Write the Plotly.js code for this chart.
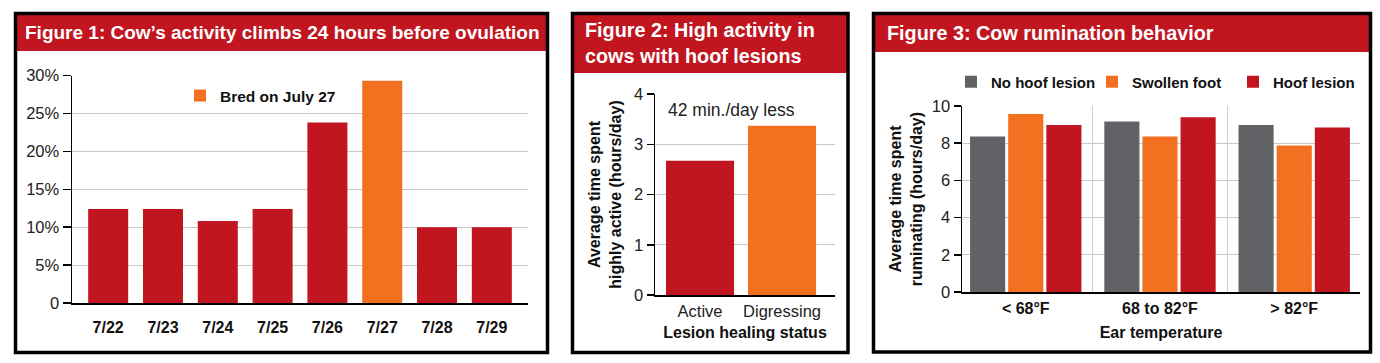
<!DOCTYPE html>
<html>
<head>
<meta charset="utf-8">
<script src="https://cdn.plot.ly/plotly-3.0.1.min.js"></script>
<style>
html,body{margin:0;padding:0;background:#fff;}
#chart{width:1380px;height:363px;}
</style>
</head>
<body>
<div id="chart"></div>
<script>
// ---------- DATA ----------
// Figure 1: cow's activity by day (%)
const dates = ['7/22','7/23','7/24','7/25','7/26','7/27','7/28','7/29'];
const activityPct = [12.4, 12.4, 10.8, 12.4, 23.8, 29.3, 10.0, 10.0];
const bredDate = '7/27';
const bredLabel = 'Bred on July 27';
const pctTickVals = [0, 5, 10, 15, 20, 25, 30];
const pctTickText = ['0', '5%', '10%', '15%', '20%', '25%', '30%'];

// Figure 2: time highly active (hours/day)
const healingStatus = ['Active', 'Digressing'];
const activeHours = [2.67, 3.37];
const fig2Note = '42 min./day less';

// Figure 3: rumination (hours/day)
const earTemps = ['< 68°F', '68 to 82°F', '> 82°F'];
const noHoofLesion = [8.36, 9.16, 8.98];
const swollenFoot = [9.57, 8.36, 7.87];
const hoofLesion = [8.98, 9.39, 8.84];
const seriesNames = ['No hoof lesion', 'Swollen foot', 'Hoof lesion'];

const titles = [
  'Figure 1: Cow’s activity climbs 24 hours before ovulation',
  'Figure 2: High activity in<br>cows with hoof lesions',
  'Figure 3: Cow rumination behavior'
];

// ---------- STYLE ----------
const RED = '#C1151F', ORANGE = '#F37021', GRAY = '#616265';
const W = 1380, H = 363;
const fx = p => p / W;
const fy = p => 1 - p / H;
const FAM = 'Liberation Sans, Arial, sans-serif';
const BOLD = {family: FAM, weight: 'bold', color: '#111'};
const REGF = {family: FAM, size: 16.5, color: '#222'};
const HEAD = {family: FAM, weight: 'bold', size: 19, color: '#fff'};
const HEAD2 = {family: FAM, weight: 'bold', size: 19.8, color: '#fff'};

// ---------- TRACES ----------
const redVals = dates.map((d, i) => d === bredDate ? null : activityPct[i]);
const bredVals = dates.map((d, i) => d === bredDate ? activityPct[i] : null);

const traces = [
  {type: 'bar', x: dates, y: redVals, marker: {color: RED}, width: 0.73,
   offsetgroup: 'f1', xaxis: 'x', yaxis: 'y', showlegend: false, name: 'activity'},
  {type: 'bar', x: dates, y: bredVals, marker: {color: ORANGE}, width: 0.73,
   offsetgroup: 'f1', xaxis: 'x', yaxis: 'y', name: bredLabel, legend: 'legend'},
  {type: 'bar', x: healingStatus, y: activeHours, marker: {color: [RED, ORANGE]},
   width: 0.83, xaxis: 'x2', yaxis: 'y2', showlegend: false, name: 'hours'},
  {type: 'bar', x: earTemps, y: noHoofLesion, marker: {color: GRAY}, name: seriesNames[0],
   xaxis: 'x3', yaxis: 'y3', legend: 'legend2'},
  {type: 'bar', x: earTemps, y: swollenFoot, marker: {color: ORANGE}, name: seriesNames[1],
   xaxis: 'x3', yaxis: 'y3', legend: 'legend2'},
  {type: 'bar', x: earTemps, y: hoofLesion, marker: {color: RED}, name: seriesNames[2],
   xaxis: 'x3', yaxis: 'y3', legend: 'legend2'}
];

const yBase = {
  showline: true, linecolor: '#000', linewidth: 1.5,
  ticks: 'outside', ticklen: 7, tickwidth: 1.5, tickcolor: '#000',
  showgrid: true, gridcolor: '#c8c8c8', gridwidth: 1, zeroline: false,
  tickfont: REGF, fixedrange: true
};
const xBase = {
  type: 'category', showline: true, linecolor: '#000', linewidth: 1.5,
  ticks: '', showgrid: false, zeroline: false, fixedrange: true,
  tickfont: Object.assign({size: 16}, BOLD)
};

const layout = {
  width: W, height: H,
  margin: {l: 0, r: 0, t: 0, b: 0},
  paper_bgcolor: '#fff', plot_bgcolor: 'rgba(0,0,0,0)',
  barmode: 'group', bargap: 0.148, bargroupgap: 0.079,
  font: {family: FAM, color: '#222'},
  xaxis: Object.assign({}, xBase, {domain: [fx(72), fx(528)], anchor: 'y',
    range: [-0.66, 7.66], categoryorder: 'array', categoryarray: dates,
    ticklabelstandoff: 9}),
  yaxis: Object.assign({}, yBase, {domain: [fy(303), fy(75.5)], anchor: 'x',
    range: [0, 30], tickvals: pctTickVals, ticktext: pctTickText, ticklen: 8}),
  xaxis2: Object.assign({}, xBase, {domain: [fx(655), fx(835)], anchor: 'y2',
    range: [-0.549, 1.646], tickfont: REGF, ticklabelstandoff: 1,
    title: {text: 'Lesion healing status', font: Object.assign({size: 16}, BOLD), standoff: 7}}),
  yaxis2: Object.assign({}, yBase, {domain: [fy(295), fy(94)], anchor: 'x2',
    range: [0, 4], tickvals: [0, 1, 2, 3, 4],
    title: {text: 'Average time spent<br>highly active (hours/day)',
            font: Object.assign({size: 16}, BOLD), standoff: 8}}),
  xaxis3: Object.assign({}, xBase, {domain: [fx(962), fx(1360)], anchor: 'y3',
    range: [-0.475, 2.49], showgrid: true, tickson: 'boundaries',
    gridcolor: '#d0d0d0', ticklabelstandoff: 1,
    title: {text: 'Ear temperature', font: Object.assign({size: 16}, BOLD), standoff: 11}}),
  yaxis3: Object.assign({}, yBase, {domain: [fy(292), fy(106)], anchor: 'x3',
    range: [0, 10], tickvals: [0, 2, 4, 6, 8, 10],
    title: {text: 'Average time spent<br>ruminating (hours/day)',
            font: Object.assign({size: 16}, BOLD), standoff: 5}}),
  legend: {x: fx(180), xanchor: 'left', y: fy(96), yanchor: 'middle',
    bgcolor: 'rgba(0,0,0,0)', font: Object.assign({size: 15.5}, BOLD), orientation: 'h'},
  legend2: {x: fx(951), xanchor: 'left', y: fy(82), yanchor: 'middle',
    bgcolor: 'rgba(0,0,0,0)', font: Object.assign({size: 15}, BOLD), orientation: 'h',
    entrywidth: 96, entrywidthmode: 'pixels', traceorder: 'normal'},
  shapes: [
    {type: 'rect', xref: 'paper', yref: 'paper', x0: fx(16), x1: fx(546), y0: fy(15), y1: fy(51),
     fillcolor: RED, line: {width: 0}, layer: 'below'},
    {type: 'rect', xref: 'paper', yref: 'paper', x0: fx(574), x1: fx(847), y0: fy(15), y1: fy(73),
     fillcolor: RED, line: {width: 0}, layer: 'below'},
    {type: 'rect', xref: 'paper', yref: 'paper', x0: fx(875), x1: fx(1369), y0: fy(15), y1: fy(52),
     fillcolor: RED, line: {width: 0}, layer: 'below'},
    {type: 'rect', xref: 'paper', yref: 'paper', x0: fx(15.5), x1: fx(547.5), y0: fy(13.5), y1: fy(352.5),
     line: {color: '#000', width: 3.5}},
    {type: 'rect', xref: 'paper', yref: 'paper', x0: fx(572.5), x1: fx(848), y0: fy(13.5), y1: fy(352.5),
     line: {color: '#000', width: 3.5}},
    {type: 'rect', xref: 'paper', yref: 'paper', x0: fx(873.5), x1: fx(1370.5), y0: fy(13.5), y1: fy(352),
     line: {color: '#000', width: 3.5}}
  ],
  annotations: [
    {xref: 'paper', yref: 'paper', x: fx(23), y: fy(32), xanchor: 'left', yanchor: 'middle',
     text: titles[0], showarrow: false, font: HEAD},
    {xref: 'paper', yref: 'paper', x: fx(583), y: fy(43), xanchor: 'left', yanchor: 'middle',
     text: titles[1], showarrow: false, align: 'left', font: HEAD2},
    {xref: 'paper', yref: 'paper', x: fx(885), y: fy(33), xanchor: 'left', yanchor: 'middle',
     text: titles[2], showarrow: false, font: HEAD2},
    {xref: 'paper', yref: 'paper', x: fx(666), y: fy(110), xanchor: 'left', yanchor: 'middle',
     text: fig2Note, showarrow: false, font: {family: FAM, size: 17.5, color: '#222'}}
  ]
};

Plotly.newPlot('chart', traces, layout, {staticPlot: true, displayModeBar: false});
</script>
</body>
</html>
